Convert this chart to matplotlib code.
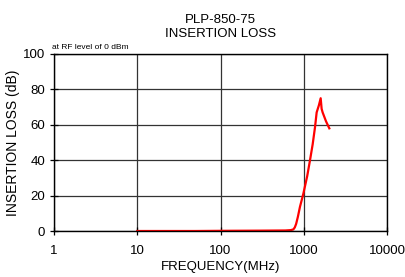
import matplotlib
matplotlib.use("Agg")
import matplotlib.pyplot as plt
from matplotlib.ticker import FixedLocator, NullLocator

plt.rcParams['font.family'] = ['Liberation Sans', 'DejaVu Sans']

freq = [10, 50, 100, 300, 600, 700, 750, 780, 810, 850, 901, 988, 1100, 1189, 1280, 1365, 1429, 1520, 1597, 1640, 1686, 1850, 2028]
loss = [0.0, 0.0, 0.1, 0.2, 0.3, 0.5, 0.9, 2.0, 4.0, 8.0, 13.7, 21.0, 31.0, 40.0, 49.0, 58.6, 67.0, 71.0, 75.0, 69.0, 67.0, 62.0, 58.0]

xticks = [1, 10, 100, 1000, 10000]
xlabels = ['1', '10', '100', '1000', '10000']
yticks = [0, 20, 40, 60, 80, 100]

fig = plt.figure(figsize=(4.06, 2.77), dpi=100)
ax = fig.add_axes([54/406, 1-231/277, 333/406, 177/277])

ax.plot(freq, loss, color='#ff0000', lw=1.6)
ax.set_xscale('log')
ax.set_xlim(1, 10000)
ax.set_ylim(0, 100)
ax.xaxis.set_major_locator(FixedLocator(xticks))
ax.set_xticklabels(xlabels)
ax.xaxis.set_minor_locator(NullLocator())
ax.set_yticks(yticks)
ax.grid(True, color='#333333', lw=0.9)
ax.tick_params(axis='both', labelsize=9.5, direction='inout', length=6, width=0.9)
ax.tick_params(axis='x', pad=7)
for s in ax.spines.values():
    s.set_linewidth(1.0)
ax.set_xlabel('FREQUENCY(MHz)', fontsize=9.5, labelpad=3)
ax.set_ylabel('INSERTION LOSS (dB)', fontsize=10, labelpad=2)
ax.set_title('PLP-850-75\nINSERTION LOSS', fontsize=9.5, linespacing=1.25, pad=12)
ax.text(-0.005, 1.015, 'at RF level of 0 dBm', transform=ax.transAxes, fontsize=6, va='bottom')

fig.savefig('out.png', dpi=100)
